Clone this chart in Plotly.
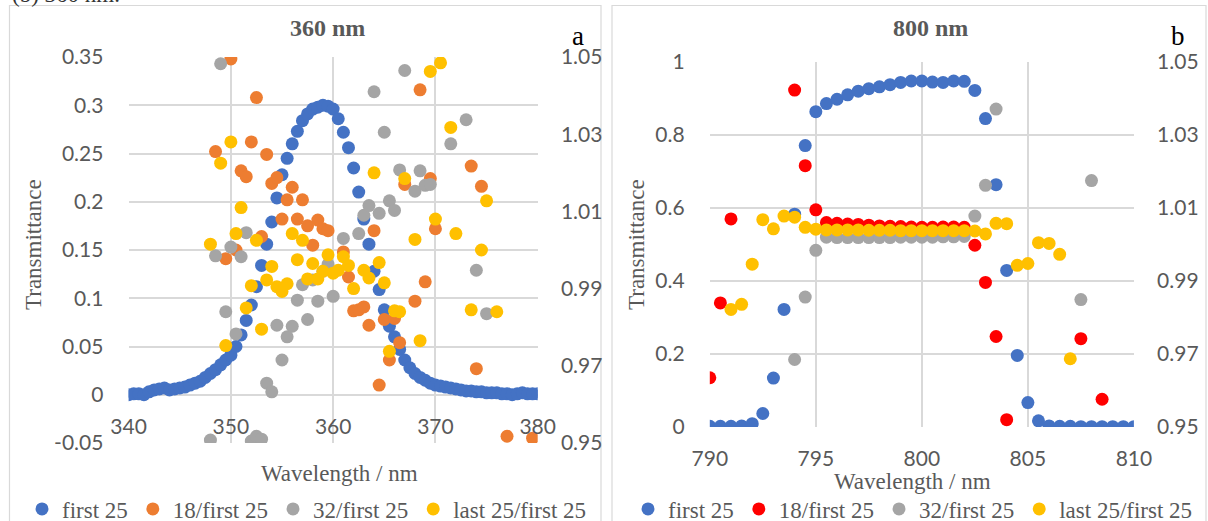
import plotly.graph_objects as go

W, H = 1208, 521
def fx(px):
    return px / W
def fy(py):
    return 1 - py / H

# ---------------- data : panel a (360 nm) ----------------
wl_360 = [340.0, 340.5, 341.0, 341.5, 342.0, 342.5, 343.0, 343.5, 344.0, 344.5,
          345.0, 345.5, 346.0, 346.5, 347.0, 347.5, 348.0, 348.5, 349.0, 349.5,
          350.0, 350.5, 351.0, 351.5, 352.0, 352.5, 353.0, 353.5, 354.0, 354.5,
          355.0, 355.5, 356.0, 356.5, 357.0, 357.5, 358.0, 358.5, 359.0, 359.5,
          360.0, 360.5, 361.0, 361.5, 362.0, 362.5, 363.0, 363.5, 364.0, 364.5,
          365.0, 365.5, 366.0, 366.5, 367.0, 367.5, 368.0, 368.5, 369.0, 369.5,
          370.0, 370.5, 371.0, 371.5, 372.0, 372.5, 373.0, 373.5, 374.0, 374.5,
          375.0, 375.5, 376.0, 376.5, 377.0, 377.5, 378.0, 378.5, 379.0, 379.5,
          380.0]
N = None
first25_360 = [0.000, 0.001, 0.001, 0.000, 0.003, 0.005, 0.006, 0.007, 0.005, 0.006,
               0.007, 0.008, 0.010, 0.012, 0.014, 0.018, 0.022, 0.026, 0.031, 0.036,
               0.041, 0.050, 0.062, 0.077, 0.093, 0.112, 0.134, 0.156, 0.179, 0.204,
               0.228, 0.245, 0.260, 0.273, 0.284, 0.291, 0.296, 0.298, 0.300, 0.299,
               0.296, 0.286, 0.272, 0.256, 0.235, 0.210, 0.182, 0.156, 0.128, 0.109,
               0.088, 0.071, 0.060, 0.047, 0.036, 0.028, 0.022, 0.018, 0.015, 0.012,
               0.010, 0.009, 0.008, 0.007, 0.006, 0.005, 0.004, 0.004, 0.003, 0.003,
               0.002, 0.002, 0.002, 0.001, 0.001, 0.000, 0.001, 0.002, 0.001, 0.001,
               0.001]
r18_360 = [N, N, N, N, N, N, N, N, N, N,
           N, N, N, N, N, N, N, 0.252, N, 0.141,
           0.348, 0.150, 0.232, 0.226, 0.262, 0.308, 0.164, 0.249, 0.219, 0.225,
           0.182, 0.202, 0.215, 0.182, 0.202, 0.175, 0.155, 0.181, 0.172, 0.170,
           N, N, 0.148, 0.122, 0.087, 0.088, 0.091, 0.072, 0.170, 0.010,
           0.078, 0.036, 0.079, 0.054, 0.218, N, 0.097, 0.316, 0.117, 0.224,
           0.172, N, N, N, N, N, N, 0.237, 0.027, 0.216,
           N, N, N, N, -0.043, N, N, N, N, -0.045,
           N]
r32_360 = [N, N, N, N, N, N, N, N, N, N,
           N, N, N, N, N, N, -0.047, 0.144, 0.343, 0.086,
           0.153, 0.063, 0.143, 0.168, -0.048, -0.043, -0.046, 0.012, 0.003, 0.072,
           0.036, 0.060, 0.071, 0.098, 0.114, 0.078, 0.119, 0.097, 0.128, 0.135,
           0.102, N, 0.162, N, N, 0.167, 0.186, 0.196, 0.314, 0.188,
           0.272, 0.201, 0.191, 0.233, 0.336, N, 0.211, 0.232, 0.217, 0.218,
           N, N, N, 0.260, N, N, 0.285, N, 0.129, N,
           0.084, N, N, N, N, N, N, N, N, N,
           N]
rlast_360 = [N, N, N, N, N, N, N, N, N, N,
             N, N, N, N, N, N, 0.156, N, 0.240, 0.051,
             0.262, 0.167, 0.194, 0.090, 0.113, 0.160, 0.068, 0.119, 0.133, 0.112,
             0.107, 0.115, 0.167, 0.140, 0.160, 0.120, 0.136, 0.120, 0.128, 0.145,
             0.126, 0.129, 0.143, 0.134, 0.110, N, 0.129, 0.121, 0.230, 0.137,
             0.116, 0.045, 0.087, 0.086, 0.224, N, 0.161, 0.056, N, 0.335,
             0.182, 0.344, N, 0.277, 0.167, N, N, 0.088, N, 0.150,
             0.201, N, 0.086, N, N, N, N, N, N, N,
             N]

# ---------------- data : panel b (800 nm) ----------------
wl_800 = [790.0, 790.5, 791.0, 791.5, 792.0, 792.5, 793.0, 793.5, 794.0, 794.5,
          795.0, 795.5, 796.0, 796.5, 797.0, 797.5, 798.0, 798.5, 799.0, 799.5,
          800.0, 800.5, 801.0, 801.5, 802.0, 802.5, 803.0, 803.5, 804.0, 804.5,
          805.0, 805.5, 806.0, 806.5, 807.0, 807.5, 808.0, 808.5, 809.0, 809.5,
          810.0]
first25_800 = [0.002, 0.002, 0.002, 0.003, 0.009, 0.037, 0.134, 0.322, 0.583, 0.771,
               0.864, 0.886, 0.898, 0.910, 0.920, 0.927, 0.932, 0.938, 0.944, 0.948,
               0.948, 0.945, 0.944, 0.948, 0.947, 0.922, 0.845, 0.664, 0.429, 0.196,
               0.067, 0.017, 0.003, 0.002, 0.002, 0.001, 0.001, 0.001, 0.001, 0.001,
               0.001]
r18_800 = [0.135, 0.340, 0.570, N, N, N, N, N, 0.923, 0.716,
           0.595, 0.560, 0.558, 0.556, 0.555, 0.553, 0.551, 0.550, 0.549, 0.548,
           0.547, 0.547, 0.548, 0.548, 0.547, 0.498, 0.396, 0.248, 0.020, N,
           N, N, N, N, N, 0.242, N, 0.076, N, N,
           N]
r32_800 = [N, N, N, N, N, N, N, N, 0.185, 0.356,
           0.484, 0.520, 0.519, 0.519, 0.519, 0.519, 0.519, 0.519, 0.520, 0.520,
           0.520, 0.520, 0.521, 0.521, 0.522, 0.578, 0.662, 0.871, N, N,
           N, N, N, N, N, 0.349, 0.675, N, N, N,
           N]
rlast_800 = [N, N, 0.322, 0.336, 0.446, 0.568, 0.543, 0.578, 0.575, 0.547,
             0.542, 0.540, 0.540, 0.540, 0.540, 0.539, 0.539, 0.539, 0.538, 0.538,
             0.538, 0.538, 0.538, 0.538, 0.538, 0.537, 0.529, 0.558, 0.557, 0.443,
             0.448, 0.505, 0.503, 0.473, 0.187, N, N, N, N, N,
             N]

# ---------------- ticks ----------------
xticks_360 = [340, 350, 360, 370, 380]
yticks_360 = [-0.05, 0, 0.05, 0.1, 0.15, 0.2, 0.25, 0.3, 0.35]
ylabels_360 = ["-0.05", "0", "0.05", "0.1", "0.15", "0.2", "0.25", "0.3", "0.35"]
xticks_800 = [790, 795, 800, 805, 810]
yticks_800 = [0, 0.2, 0.4, 0.6, 0.8, 1]
ylabels_800 = ["0", "0.2", "0.4", "0.6", "0.8", "1"]
y2ticks = [0.95, 0.97, 0.99, 1.01, 1.03, 1.05]
y2labels = ["0.95", "0.97", "0.99", "1.01", "1.03", "1.05"]
names = ["first 25", "18/first 25", "32/first 25", "last 25/first 25"]

BLUE, ORANGE, GRAY, YELLOW, RED = "#4472C4", "#ED7D31", "#A5A5A5", "#FFC000", "#FF0000"
GRID = "#D9D9D9"
TXT = "#595959"
SERIF = "Liberation Serif"
SANS = "Lato"
MS = 13

fig = go.Figure()
for nm, vals, col in zip(names, [first25_360, r18_360, r32_360, rlast_360],
                         [BLUE, ORANGE, GRAY, YELLOW]):
    fig.add_trace(go.Scatter(x=wl_360, y=vals, mode="markers", name=nm,
                             marker=dict(color=col, size=MS, line=dict(width=0)),
                             xaxis="x", yaxis="y", legend="legend"))
fig.add_trace(go.Scatter(x=[], y=[], mode="markers", xaxis="x", yaxis="y2",
                         showlegend=False, hoverinfo="skip"))
for nm, vals, col in zip(names, [first25_800, r18_800, r32_800, rlast_800],
                         [BLUE, RED, GRAY, YELLOW]):
    fig.add_trace(go.Scatter(x=wl_800, y=vals, mode="markers", name=nm,
                             marker=dict(color=col, size=MS, line=dict(width=0)),
                             xaxis="x3", yaxis="y3", legend="legend2"))
fig.add_trace(go.Scatter(x=[], y=[], mode="markers", xaxis="x3", yaxis="y4",
                         showlegend=False, hoverinfo="skip"))

tickfont = dict(family=SANS, size=21, color=TXT)
common = dict(showgrid=True, gridcolor=GRID, gridwidth=1.5, zeroline=False,
              showline=False, ticks="outside", tickcolor="rgba(0,0,0,0)",
              tickfont=tickfont, automargin=False)

# panel geometry (pixels)
L_x0, L_x1, L_yt, L_yb = 128.6, 537.7, 57, 443
R_x0, R_x1, R_yt, R_yb = 709.8, 1133.9, 62, 427
zero_px = L_yb - (L_yb - L_yt) * 0.05 / 0.40

fig.update_layout(
    width=W, height=H,
    margin=dict(l=0, r=0, t=0, b=0, pad=0, autoexpand=False),
    paper_bgcolor="white", plot_bgcolor="white",
    xaxis=dict(domain=[fx(L_x0), fx(L_x1)], range=[340, 380], tickvals=xticks_360,
               ticktext=[str(v) for v in xticks_360], anchor="free",
               position=fy(zero_px), ticklen=13, **common),
    yaxis=dict(domain=[fy(L_yb), fy(L_yt)], range=[-0.05, 0.35], tickvals=yticks_360,
               ticktext=ylabels_360, anchor="x", ticklen=20, **common),
    yaxis2=dict(overlaying="y", side="right", anchor="x", range=[0.95, 1.05],
                tickvals=y2ticks, ticktext=y2labels, showgrid=False, zeroline=False,
                ticks="outside", tickcolor="rgba(0,0,0,0)", ticklen=18,
                tickfont=tickfont, automargin=False),
    xaxis3=dict(domain=[fx(R_x0), fx(R_x1)], range=[790, 810], tickvals=xticks_800,
                ticktext=[str(v) for v in xticks_800], anchor="y3", ticklen=13,
                **common),
    yaxis3=dict(domain=[fy(R_yb), fy(R_yt)], range=[0, 1], tickvals=yticks_800,
                ticktext=ylabels_800, anchor="x3", ticklen=20, **common),
    yaxis4=dict(overlaying="y3", side="right", anchor="x3", range=[0.95, 1.05],
                tickvals=y2ticks, ticktext=y2labels, showgrid=False, zeroline=False,
                ticks="outside", tickcolor="rgba(0,0,0,0)", ticklen=18,
                tickfont=tickfont, automargin=False),
    legend=dict(orientation="h", x=fx(22), xanchor="left", y=fy(509), yanchor="middle",
                font=dict(family=SERIF, size=23, color=TXT), bgcolor="rgba(0,0,0,0)",
                itemwidth=30),
    legend2=dict(orientation="h", x=fx(628), xanchor="left", y=fy(509), yanchor="middle",
                 font=dict(family=SERIF, size=23, color=TXT), bgcolor="rgba(0,0,0,0)",
                 itemwidth=30),
    showlegend=True,
)

# chart borders
for x0, x1 in [(9.5, 601), (612, 1206)]:
    fig.add_shape(type="rect", xref="paper", yref="paper", x0=fx(x0), x1=fx(x1),
                  y0=-0.02, y1=fy(5.5), line=dict(color=GRID, width=1.2),
                  fillcolor="rgba(0,0,0,0)", layer="below")

def ann(text, xpx, ypx, size, color=TXT, bold=False, angle=0, family=SERIF):
    fig.add_annotation(text=("<b>%s</b>" % text) if bold else text,
                       xref="paper", yref="paper", x=fx(xpx), y=fy(ypx),
                       xanchor="center", yanchor="middle", showarrow=False,
                       textangle=angle, font=dict(family=family, size=size, color=color))

ann("360 nm", 327, 28, 24, bold=True)
ann("800 nm", 930, 28, 24, bold=True)
ann("a", 578, 36, 27, color="black")
ann("b", 1178, 36, 27, color="black")
ann("Transmittance", 34, 245, 23, angle=-90)
ann("Transmittance", 637, 245, 23, angle=-90)
ann("Wavelength / nm", 339, 473, 23)
ann("Wavelength / nm", 913, 481, 23)
fig.add_annotation(text="(b) 360 nm.", xref="paper", yref="paper", x=fx(10), y=fy(-5),
                   xanchor="left", yanchor="middle", showarrow=False,
                   font=dict(family=SERIF, size=23, color="#333333"))

fig.write_html("out.html")
